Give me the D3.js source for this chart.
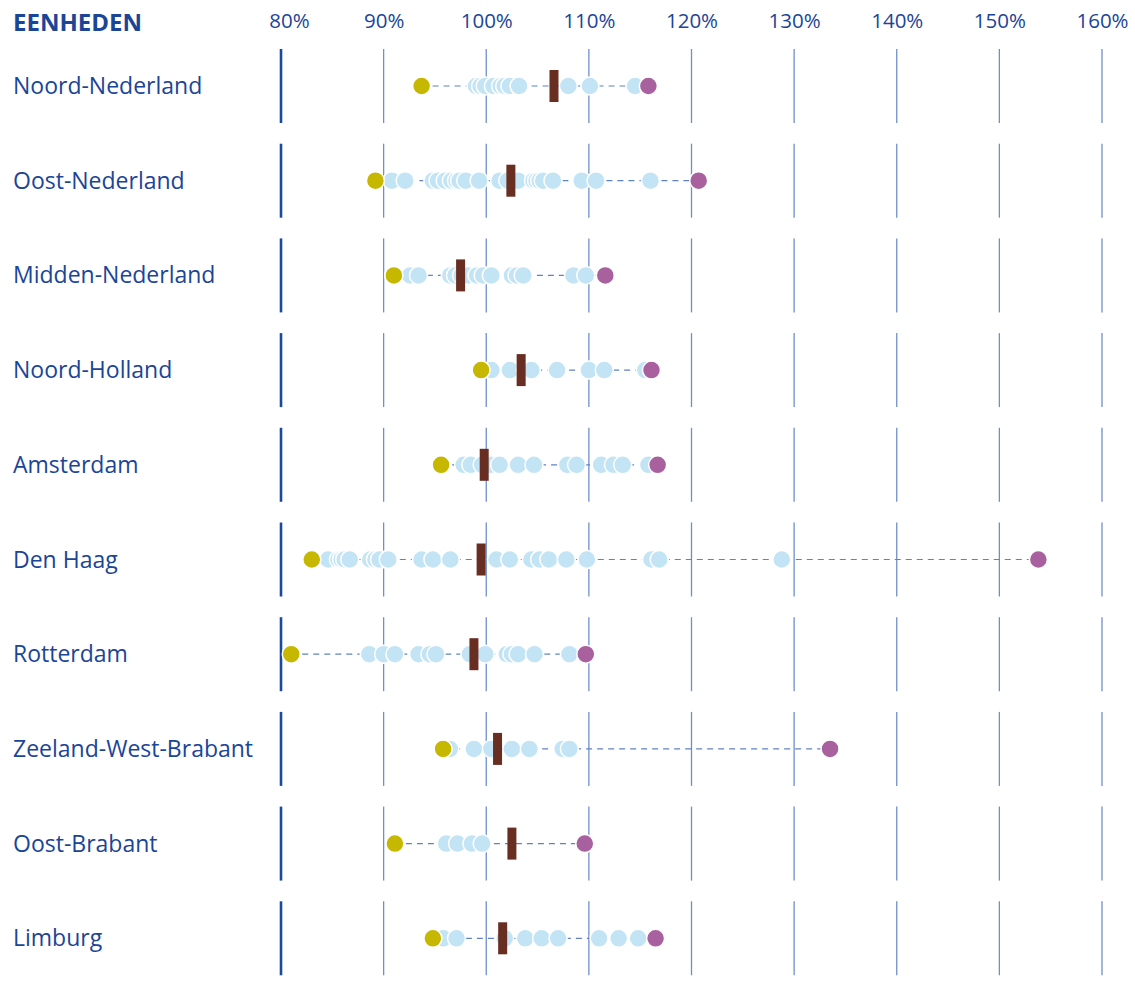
<!DOCTYPE html>
<html>
<head>
<meta charset="utf-8">
<script src="https://cdn.jsdelivr.net/npm/d3@7"></script>
<style>
  html, body { margin: 0; padding: 0; background: #fff; }
  svg { display: block; }
</style>
</head>
<body>
<svg id="chart" width="1135" height="982"></svg>
<script>
// ---- data ----
const regions = ["Noord-Nederland", "Oost-Nederland", "Midden-Nederland", "Noord-Holland",
  "Amsterdam", "Den Haag", "Rotterdam", "Zeeland-West-Brabant", "Oost-Brabant", "Limburg"];

const tickValues = [80, 90, 100, 110, 120, 130, 140, 150, 160];

// lowest unit (yellow) per region
const minValues = [93.7, 89.2, 91.0, 99.5, 95.6, 83.0, 81.0, 95.8, 91.1, 94.8];
// highest unit (purple) per region
const maxValues = [115.8, 120.7, 111.6, 116.1, 116.7, 153.8, 109.7, 133.5, 109.6, 116.5];
// regional average (bar)
const avgValues = [106.6, 102.4, 97.5, 103.4, 99.8, 99.5, 98.8, 101.1, 102.5, 101.6];

// other units per region (light blue dots)
const unitValues = [
  [99.0, 99.45, 99.9, 100.7, 101.4, 101.8, 102.3, 103.2, 108.0, 110.1, 114.5],
  [90.8, 92.1, 94.8, 95.3, 96.0, 96.6, 97.1, 97.4, 98.0, 99.3, 101.3, 102.1, 103.1, 104.6, 104.9, 105.2, 105.55, 106.5, 109.3, 110.7, 116.0],
  [92.6, 93.4, 96.5, 97.0, 97.6, 98.25, 99.1, 99.7, 100.5, 102.5, 103.0, 103.6, 108.5, 109.7],
  [100.5, 102.3, 103.8, 104.4, 106.9, 110.0, 111.5, 115.5],
  [97.8, 98.5, 99.6, 100.4, 101.3, 103.1, 104.65, 107.9, 108.8, 111.2, 112.4, 113.3, 115.8],
  [84.6, 85.6, 85.9, 86.2, 86.7, 88.7, 89.2, 89.6, 90.45, 93.7, 94.8, 96.5, 101.0, 102.3, 104.4, 105.2, 106.1, 107.8, 109.8, 116.1, 116.85, 128.8],
  [88.6, 90.0, 91.1, 93.4, 94.5, 95.1, 98.4, 99.9, 102.0, 102.5, 103.1, 104.7, 108.1],
  [96.45, 98.8, 100.5, 102.5, 104.2, 107.45, 108.1],
  [96.1, 97.2, 98.6, 99.6],
  [95.8, 97.1, 101.8, 103.8, 105.4, 107.0, 111.0, 112.9, 114.8]
];

// ---- layout ----
const textColor = "#1b4597";
const font = "'Open Sans', 'DejaVu Sans', sans-serif";

const svg = d3.select("#chart");

const x = d3.scaleLinear().domain([80, 160]).range([281, 1102]);
const rowStep = 94.7;
const y = d3.scalePoint().domain(regions).range([86, 86 + rowStep * (regions.length - 1)]);
const halfSeg = 37;

// header
svg.append("text")
  .attr("x", 13).attr("y", 31)
  .attr("font-family", font).attr("font-weight", 700).attr("font-size", 24)
  .attr("fill", textColor)
  .text("EENHEDEN");

// tick labels (top axis)
const axis = d3.axisTop(x).tickValues(tickValues).tickFormat(d => d + "%").tickSize(0);
const axisG = svg.append("g").attr("transform", "translate(0,31)").call(axis);
axisG.select(".domain").remove();
axisG.selectAll("text")
  .attr("font-family", font).attr("font-size", 20.5)
  .attr("fill", textColor)
  .attr("dy", 0)
  .attr("dx", d => d === 80 ? 8 : 0);

// rows
const rows = svg.selectAll("g.row")
  .data(regions.map((r, i) => ({
    region: r, min: minValues[i], max: maxValues[i], avg: avgValues[i], units: unitValues[i]
  })))
  .join("g")
  .attr("class", "row")
  .attr("transform", d => `translate(0,${y(d.region)})`);

// grid segments
rows.each(function() {
  const g = d3.select(this);
  g.selectAll("line.grid")
    .data(tickValues)
    .join("line")
    .attr("class", "grid")
    .attr("x1", d => x(d)).attr("x2", d => x(d))
    .attr("y1", -halfSeg).attr("y2", halfSeg)
    .attr("stroke", d => d === 80 ? "#1a4a9c" : "#6f8fc9")
    .attr("stroke-width", d => d === 80 ? 2.6 : 1.3);
});

// region labels
rows.append("text")
  .attr("x", 13).attr("y", 0).attr("dy", "0.35em")
  .attr("font-family", font).attr("font-size", 23)
  .attr("fill", textColor)
  .text(d => d.region);

// dashed range line
rows.append("line")
  .attr("x1", d => x(d.min)).attr("x2", d => x(d.max))
  .attr("y1", 0).attr("y2", 0)
  .attr("stroke", "#5f82c4").attr("stroke-width", 1.2)
  .attr("stroke-dasharray", "6,5");

// unit dots
rows.each(function(d) {
  d3.select(this).selectAll("circle.unit")
    .data(d.units)
    .join("circle")
    .attr("class", "unit")
    .attr("cx", v => x(v)).attr("cy", 0).attr("r", 9)
    .attr("fill", "#c3e4f4")
    .attr("stroke", "#fff").attr("stroke-width", 1.5);
});

// min dot
rows.append("circle")
  .attr("cx", d => x(d.min)).attr("cy", 0).attr("r", 9)
  .attr("fill", "#c6b700").attr("stroke", "#fff").attr("stroke-width", 1.5);

// max dot
rows.append("circle")
  .attr("cx", d => x(d.max)).attr("cy", 0).attr("r", 9)
  .attr("fill", "#a8609e").attr("stroke", "#fff").attr("stroke-width", 1.5);

// average bar
rows.append("rect")
  .attr("x", d => x(d.avg) - 4.5).attr("y", -16)
  .attr("width", 9).attr("height", 32)
  .attr("fill", "#682e22");
</script>
</body>
</html>
